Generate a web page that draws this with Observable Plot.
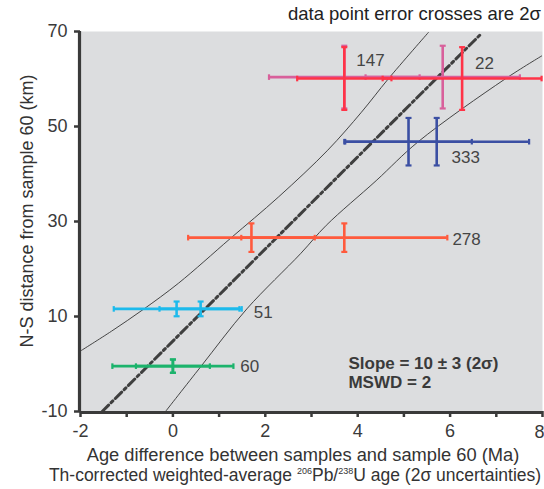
<!DOCTYPE html>
<html><head><meta charset="utf-8">
<script src="https://cdn.jsdelivr.net/npm/d3@7"></script>
<script src="https://cdn.jsdelivr.net/npm/@observablehq/plot@0.6"></script>
<style>
html,body{margin:0;padding:0;background:#fff;}
#chart svg{display:block;}
</style></head><body><div id="chart"></div>
<script>
// ---- data ----
const crossSample  = ["60","60","51","51","278","278","333","333","147","147","22","22"];
const crossAge     = [0, 0, 0.08, 0.60, 1.70, 3.71, 5.10, 5.71, 3.71, 5.84, 3.71, 6.26];
const crossAgeErr  = [1.31, 0.80, 1.36, 0.89, 1.37, 2.23, 1.37, 2.00, 1.63, 1.67, 1.02, 1.72];
const crossDist    = [-0.45, -0.45, 11.6, 11.6, 26.6, 26.6, 46.8, 46.8, 60.4, 60.4, 60.1, 60.1];
const crossDistErr = [1.4, 1.4, 1.55, 1.55, 3.0, 3.0, 5.0, 5.0, 6.6, 6.6, 6.6, 6.6];

const sampleOrder  = ["60","51","278","333","147","22"];
const sampleColors = ["#1cb36c","#1cbaec","#ff5a3d","#3b4fa3","#d8609b","#ff3347"];

const labelText = ["147","22","333","278","51","60"];
const labelAge  = [3.97, 6.54, 6.03, 6.05, 1.75, 1.46];
const labelDist = [63.9, 63.2, 43.5, 26.2, 10.8, -0.5];

const fitAge  = [-1.53, 6.67];
const fitDist = [-10, 69.5];

const upperAge  = [-1.99, -1.33, -0.64, 0.12, 1.24, 2.29, 3.35, 4.08, 4.66, 5.53];
const upperDist = [2.8, 6.9, 11.5, 17.0, 26.4, 35.2, 45.0, 53.0, 60.0, 69.8];
const lowerAge  = [-0.16, 0.60, 1.60, 2.77, 3.32, 4.40, 5.31, 7.19, 7.99];
const lowerDist = [-10, -0.6, 11.6, 23.3, 29.2, 38.6, 46.8, 60.0, 64.9];

const xTicks = [-2,-1,0,1,2,3,4,5,6,7,8];
const xTickLabels = [-2,0,2,4,6];
const xEdgeLabel = [8];
const yTicks = [-10,10,30,50,70];

const statLines = ["Slope = 10 \u00b1 3 (2\u03c3)", "MSWD = 2"];
const statAge = [3.80, 3.80];
const statDist = [0.1, -3.8];

// ---- tables ----
const crosses = crossSample.map((s,i)=>({sample:s, age:crossAge[i], ageErr:crossAgeErr[i], dist:crossDist[i], distErr:crossDistErr[i]}));
const fit = fitAge.map((a,i)=>({age:a, dist:fitDist[i]}));
const upper = upperAge.map((a,i)=>({age:a, dist:upperDist[i]}));
const lower = lowerAge.map((a,i)=>({age:a, dist:lowerDist[i]}));
const labels = labelText.map((t,i)=>({t, age:labelAge[i], dist:labelDist[i]}));
const stats = statLines.map((t,i)=>({t, age:statAge[i], dist:statDist[i]}));

const vbar = {draw(ctx,size){const r=Math.sqrt(size/Math.PI); ctx.moveTo(0,-r); ctx.lineTo(0,r);}};
const hbar = {draw(ctx,size){const r=Math.sqrt(size/Math.PI); ctx.moveTo(-r,0); ctx.lineTo(r,0);}};

const FONT = "'Liberation Sans', Arial, Helvetica, sans-serif";
const AX = "#3a3a3a";

const crossMarks = [];
for (const c of crosses) {
  const d = [c];
  crossMarks.push(
    Plot.ruleY(d, {y:"dist", x1:x=>x.age-x.ageErr, x2:x=>x.age+x.ageErr, stroke:"sample", strokeWidth:2.6}),
    Plot.dot(d, {x:x=>x.age-x.ageErr, y:"dist", symbol:vbar, r:2.8, stroke:"sample", fill:"none", strokeWidth:2.2}),
    Plot.dot(d, {x:x=>x.age+x.ageErr, y:"dist", symbol:vbar, r:2.8, stroke:"sample", fill:"none", strokeWidth:2.2}),
    Plot.ruleX(d, {x:"age", y1:x=>x.dist-x.distErr, y2:x=>x.dist+x.distErr, stroke:"sample", strokeWidth:2.6}),
    Plot.dot(d, {x:"age", y:x=>x.dist-x.distErr, symbol:hbar, r:3, stroke:"sample", fill:"none", strokeWidth:2.2}),
    Plot.dot(d, {x:"age", y:x=>x.dist+x.distErr, symbol:hbar, r:3, stroke:"sample", fill:"none", strokeWidth:2.2})
  );
}

const chart = Plot.plot({
  width: 544, height: 489,
  marginTop: 31, marginLeft: 80, marginRight: 2, marginBottom: 78,
  style: {fontFamily: FONT, background: "#fff", overflow: "visible"},
  x: {domain: [-2, 8]},
  y: {domain: [-10, 70]},
  color: {domain: sampleOrder, range: sampleColors},
  marks: [
    Plot.frame({fill: "#dcdddf", stroke: null}),
    Plot.line(upper, {x:"age", y:"dist", curve:"catmull-rom", stroke:"#333", strokeWidth:0.9, clip:true}),
    Plot.line(lower, {x:"age", y:"dist", curve:"catmull-rom", stroke:"#333", strokeWidth:0.9, clip:true}),
    Plot.line(fit, {x:"age", y:"dist", stroke:"#3f3f3f", strokeWidth:3, strokeDasharray:"9,3.5,2.5,3.5"}),
    ...crossMarks,
    Plot.text(labels, {x:"age", y:"dist", text:"t", textAnchor:"start", fontSize:17, fill:"#454545"}),
    Plot.text(stats, {x:"age", y:"dist", text:"t", textAnchor:"start", fontSize:17, fontWeight:"bold", fill:"#3a3a3a"}),
    Plot.axisX({ticks: xTicks, tickSize: 6, tickPadding: 7, fontSize: 18, stroke: AX, strokeWidth: 2.5, fill: AX,
      tickFormat: d => xTickLabels.includes(d) ? String(d) : "", label: null}),
    Plot.text(xEdgeLabel, {x: d => d, frameAnchor: "bottom", dy: 26, dx: 2, textAnchor: "end", text: d => String(d),
      fontSize: 18, fill: AX}),
    Plot.axisY({ticks: yTicks, tickSize: 6, tickPadding: 7, fontSize: 18, stroke: AX, strokeWidth: 2.5, fill: AX,
      tickFormat: d => String(d), label: null}),
    Plot.ruleX([-2], {dx: -1, stroke: AX, strokeWidth: 3.2}),
    Plot.ruleY([-10], {dy: 1, stroke: AX, strokeWidth: 3.2})
  ]
});

const svg = d3.select(chart);
svg.append("text").attr("x", 541).attr("y", 20).attr("text-anchor", "end")
  .attr("font-size", 18.5).attr("font-family", FONT).attr("fill", "#222")
  .text("data point error crosses are 2\u03c3");
svg.append("text").attr("transform", "translate(33,211) rotate(-90)").attr("text-anchor", "middle")
  .attr("font-size", 18).attr("font-family", FONT).attr("fill", "#333")
  .text("N-S distance from sample 60 (km)");
svg.append("text").attr("x", 303).attr("y", 461).attr("text-anchor", "middle")
  .attr("font-size", 18.3).attr("font-family", FONT).attr("fill", "#333")
  .text("Age difference between samples and sample 60 (Ma)");
const t2 = svg.append("text").attr("x", 295).attr("y", 481).attr("text-anchor", "middle")
  .attr("font-size", 17.5).attr("font-family", FONT).attr("fill", "#333");
t2.append("tspan").text("Th-corrected weighted-average ");
t2.append("tspan").attr("font-size", 9).attr("dy", -7).text("206");
t2.append("tspan").attr("dy", 7).text("Pb/");
t2.append("tspan").attr("font-size", 9).attr("dy", -7).text("238");
t2.append("tspan").attr("dy", 7).text("U age (2\u03c3 uncertainties)");

document.getElementById("chart").appendChild(chart);
</script></body></html>
